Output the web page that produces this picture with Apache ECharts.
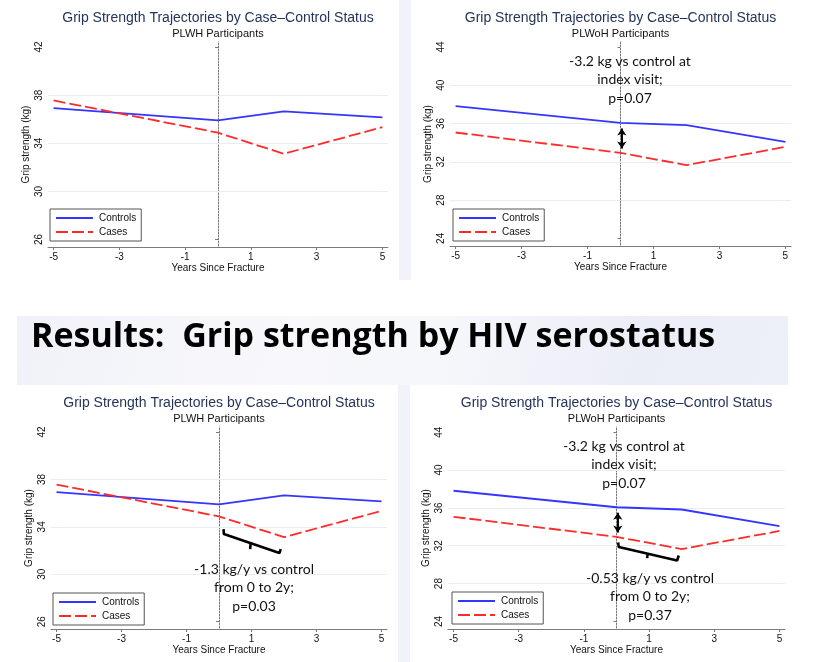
<!DOCTYPE html>
<html>
<head>
<meta charset="utf-8">
<title>Grip strength by HIV serostatus</title>
<script src="https://cdn.jsdelivr.net/npm/echarts@6.0.0/dist/echarts.min.js"></script>
<style>
body { margin: 0; background: #fff; }
#page { position: relative; width: 819px; height: 662px; overflow: hidden; background: #fff; }
.strip { position: absolute; background: #f1f2fa; }
#band { position: absolute; left: 17px; top: 316px; width: 771px; height: 69px;
        background: linear-gradient(100deg, #f1f2f8 0%, #f8f8fc 35%, #f6f7fb 55%, #eceef7 80%, #eef0f8 100%); }
#chart { position: absolute; left: 0; top: 0; width: 819px; height: 662px; }
</style>
</head>
<body>
<div id="page">
    <div class="strip" style="left:399px;top:0;width:12px;height:280px;"></div>
    <div class="strip" style="left:398px;top:385px;width:12px;height:277px;"></div>
    <div id="band"></div>
    <div id="chart"></div>
</div>
<script>
// data
var years = [-5, 0, 2, 5];
var plwhControls = [36.93, 35.90, 36.65, 36.15];
var plwhCases = [37.56, 34.88, 33.13, 35.34];
var plwohControls = [37.81, 36.07, 35.83, 34.08];
var plwohCases = [35.06, 32.94, 31.65, 33.56];

// tick labels
var xTicks = [-5, -3, -1, 1, 3, 5];
var plwhTicks = [26, 30, 34, 38, 42];
var plwohTicks = [24, 28, 32, 36, 40, 44];
var plwhGridVals = [30, 34, 38];
var plwohGridVals = [28, 32, 36, 40];

// annotation marks (data units)
var indexArrow = [[0.04, 35.48], [0.04, 33.40]];
var plwhBrace = [[0.14, 33.80], [0.15, 33.39], [1.86, 31.79], [1.90, 32.12]];
var plwhBraceTip = [[0.97, 32.54], [0.96, 32.12]];
var plwohBrace = [[0.05, 32.34], [0.07, 31.86], [1.86, 30.44], [1.91, 30.97]];
var plwohBraceTip = [[0.96, 31.22], [0.94, 30.69]];

var mainTitle = 'Grip Strength Trajectories by Case\u2013Control Status';
var slideTitle = 'Results:  Grip strength by HIV serostatus';
var indexNote = '-3.2 kg vs control at\nindex visit;\np=0.07';
var plwhSlopeNote = '-1.3 kg/y vs control\nfrom 0 to 2y;\np=0.03';
var plwohSlopeNote = '-0.53 kg/y vs control\nfrom 0 to 2y;\np=0.37';

var statFont = '"Liberation Sans", Arial, sans-serif';
var noteFont = 'Lato, "Open Sans", sans-serif';

function zip(xs, ys) {
    var out = [];
    for (var i = 0; i < xs.length; i++) {
        out.push([xs[i], ys[i]]);
    }
    return out;
}

// one Stata-style panel
var panels = [
    { grid: { left: 48, top: 42, width: 340, height: 205 }, sub: 'PLWH Participants',
      controls: plwhControls, cases: plwhCases, yMin: 25.38, yMax: 42.42,
      yTicks: plwhTicks, gridVals: plwhGridVals, legend: { left: 50, top: 209 } },
    { grid: { left: 450, top: 42, width: 341, height: 204 }, sub: 'PLWoH Participants',
      controls: plwohControls, cases: plwohCases, yMin: 23.2, yMax: 44.52,
      yTicks: plwohTicks, gridVals: plwohGridVals, legend: { left: 453, top: 209 },
      arrow: indexArrow, notes: [{ text: indexNote, x: 630, y: 52 }] },
    { grid: { left: 51, top: 427, width: 336, height: 202 }, sub: 'PLWH Participants',
      controls: plwhControls, cases: plwhCases, yMin: 25.38, yMax: 42.42,
      yTicks: plwhTicks, gridVals: plwhGridVals, legend: { left: 53, top: 593 },
      brace: plwhBrace, braceTip: plwhBraceTip,
      notes: [{ text: plwhSlopeNote, x: 254, y: 560 }] },
    { grid: { left: 448, top: 427, width: 337, height: 202 }, sub: 'PLWoH Participants',
      controls: plwohControls, cases: plwohCases, yMin: 23.2, yMax: 44.55,
      yTicks: plwohTicks, gridVals: plwohGridVals, legend: { left: 452, top: 592 },
      arrow: indexArrow, brace: plwohBrace, braceTip: plwohBraceTip,
      notes: [{ text: indexNote, x: 624, y: 437 }, { text: plwohSlopeNote, x: 650, y: 569 }] }
];

function buildOption() {
    var option = {
        animation: false,
        title: [],
        legend: [],
        grid: [],
        xAxis: [],
        yAxis: [],
        series: []
    };

    option.title.push({
        text: slideTitle, left: 31, top: 317, padding: 0,
        textStyle: { fontFamily: '"Open Sans", Lato, sans-serif', fontWeight: 'bold', fontSize: 34, color: '#000', lineHeight: 40 }
    });

    for (var i = 0; i < panels.length; i++) {
        var p = panels[i];
        var g = p.grid;
        var cx = g.left + g.width / 2;

        option.grid.push({ left: g.left, top: g.top, width: g.width, height: g.height, containLabel: false });

        option.title.push({
            text: mainTitle, subtext: p.sub, left: cx, top: g.top - 32, textAlign: 'center',
            padding: 0, itemGap: 1,
            textStyle: { fontFamily: statFont, fontWeight: 'normal', fontSize: 14, color: '#24345a', lineHeight: 16 },
            subtextStyle: { fontFamily: statFont, fontSize: 11, color: '#111', lineHeight: 13 }
        });

        option.xAxis.push({
            type: 'value', gridIndex: i, min: -5.17, max: 5.17,
            name: 'Years Since Fracture', nameLocation: 'middle', nameGap: 15,
            nameTextStyle: { fontFamily: statFont, fontSize: 10, color: '#111' },
            axisLine: { show: true, lineStyle: { color: '#7a7a7a', width: 1 } },
            axisTick: { show: true, length: 3, lineStyle: { color: '#7a7a7a' }, customValues: xTicks },
            axisLabel: { fontFamily: statFont, fontSize: 10, color: '#111', margin: 5, customValues: xTicks },
            splitLine: { show: false }
        });

        option.yAxis.push({
            type: 'value', gridIndex: i, min: p.yMin, max: p.yMax,
            name: 'Grip strength (kg)', nameLocation: 'middle', nameGap: 17,
            nameTextStyle: { fontFamily: statFont, fontSize: 10, color: '#111' },
            axisLine: { show: true, lineStyle: { color: '#7a7a7a', width: 1 } },
            axisTick: { show: true, length: 3, lineStyle: { color: '#7a7a7a' }, customValues: p.yTicks },
            axisLabel: { fontFamily: statFont, fontSize: 10, color: '#111', margin: 4, rotate: 90, customValues: p.yTicks },
            splitLine: { show: false }
        });

        // faint grid lines and the dotted line at fracture
        var guides = [];
        for (var k = 0; k < p.gridVals.length; k++) {
            guides.push({ yAxis: p.gridVals[k], lineStyle: { color: '#e6eef1', width: 1, type: 'solid' } });
        }
        guides.push({ xAxis: 0, lineStyle: { color: '#c4c4c4', width: 1, type: [1, 2] } });

        option.series.push({
            type: 'line', name: 'Controls', xAxisIndex: i, yAxisIndex: i,
            data: zip(years, p.controls), symbol: 'none', z: 3,
            lineStyle: { color: '#3535ff', width: 1.8 }, itemStyle: { color: '#3535ff' },
            markLine: { silent: true, symbol: 'none', label: { show: false }, z: 1, data: guides }
        });
        option.series.push({
            type: 'line', name: 'Cases', xAxisIndex: i, yAxisIndex: i,
            data: zip(years, p.cases), symbol: 'none', z: 3,
            lineStyle: { color: '#ff2b2b', width: 1.8, type: [12, 4] }, itemStyle: { color: '#ff2b2b' }
        });

        if (p.arrow) {
            option.series.push({
                type: 'line', name: 'arrow' + i, xAxisIndex: i, yAxisIndex: i, data: [], z: 4,
                markLine: {
                    silent: true, symbol: ['arrow', 'arrow'], symbolSize: [7, 7], label: { show: false },
                    lineStyle: { color: '#000', width: 2, type: 'solid' },
                    data: [[{ coord: p.arrow[0] }, { coord: p.arrow[1] }]]
                }
            });
        }
        if (p.brace) {
            option.series.push({
                type: 'line', name: 'brace' + i, xAxisIndex: i, yAxisIndex: i, z: 4,
                data: p.brace, symbol: 'none', lineStyle: { color: '#000', width: 2.6 }
            });
            option.series.push({
                type: 'line', name: 'braceTip' + i, xAxisIndex: i, yAxisIndex: i, z: 4,
                data: p.braceTip, symbol: 'none', lineStyle: { color: '#000', width: 2.6 }
            });
        }
        if (p.notes) {
            for (var n = 0; n < p.notes.length; n++) {
                option.title.push({
                    text: p.notes[n].text, left: p.notes[n].x, top: p.notes[n].y, textAlign: 'center', padding: 0,
                    textStyle: { fontFamily: noteFont, fontWeight: 'normal', fontSize: 14, color: '#111', lineHeight: 18.5, align: 'center' }
                });
            }
        }

        // tiny itemHeight keeps the legend symbol hidden inside the line sample
        option.legend.push({
            data: ['Controls', 'Cases'], orient: 'vertical', left: p.legend.left, top: p.legend.top,
            padding: [3, 5, 3, 5], itemGap: 2, itemWidth: 37, itemHeight: 2,
            borderColor: '#555', borderWidth: 1, borderRadius: 0, backgroundColor: '#fff',
            selectedMode: false,
            textStyle: { fontFamily: statFont, fontSize: 10, color: '#111', lineHeight: 12, padding: [0, 0, 0, 1] }
        });
    }
    return option;
}

var chart = echarts.init(document.getElementById('chart'));
chart.setOption(buildOption());
</script>
</body>
</html>
